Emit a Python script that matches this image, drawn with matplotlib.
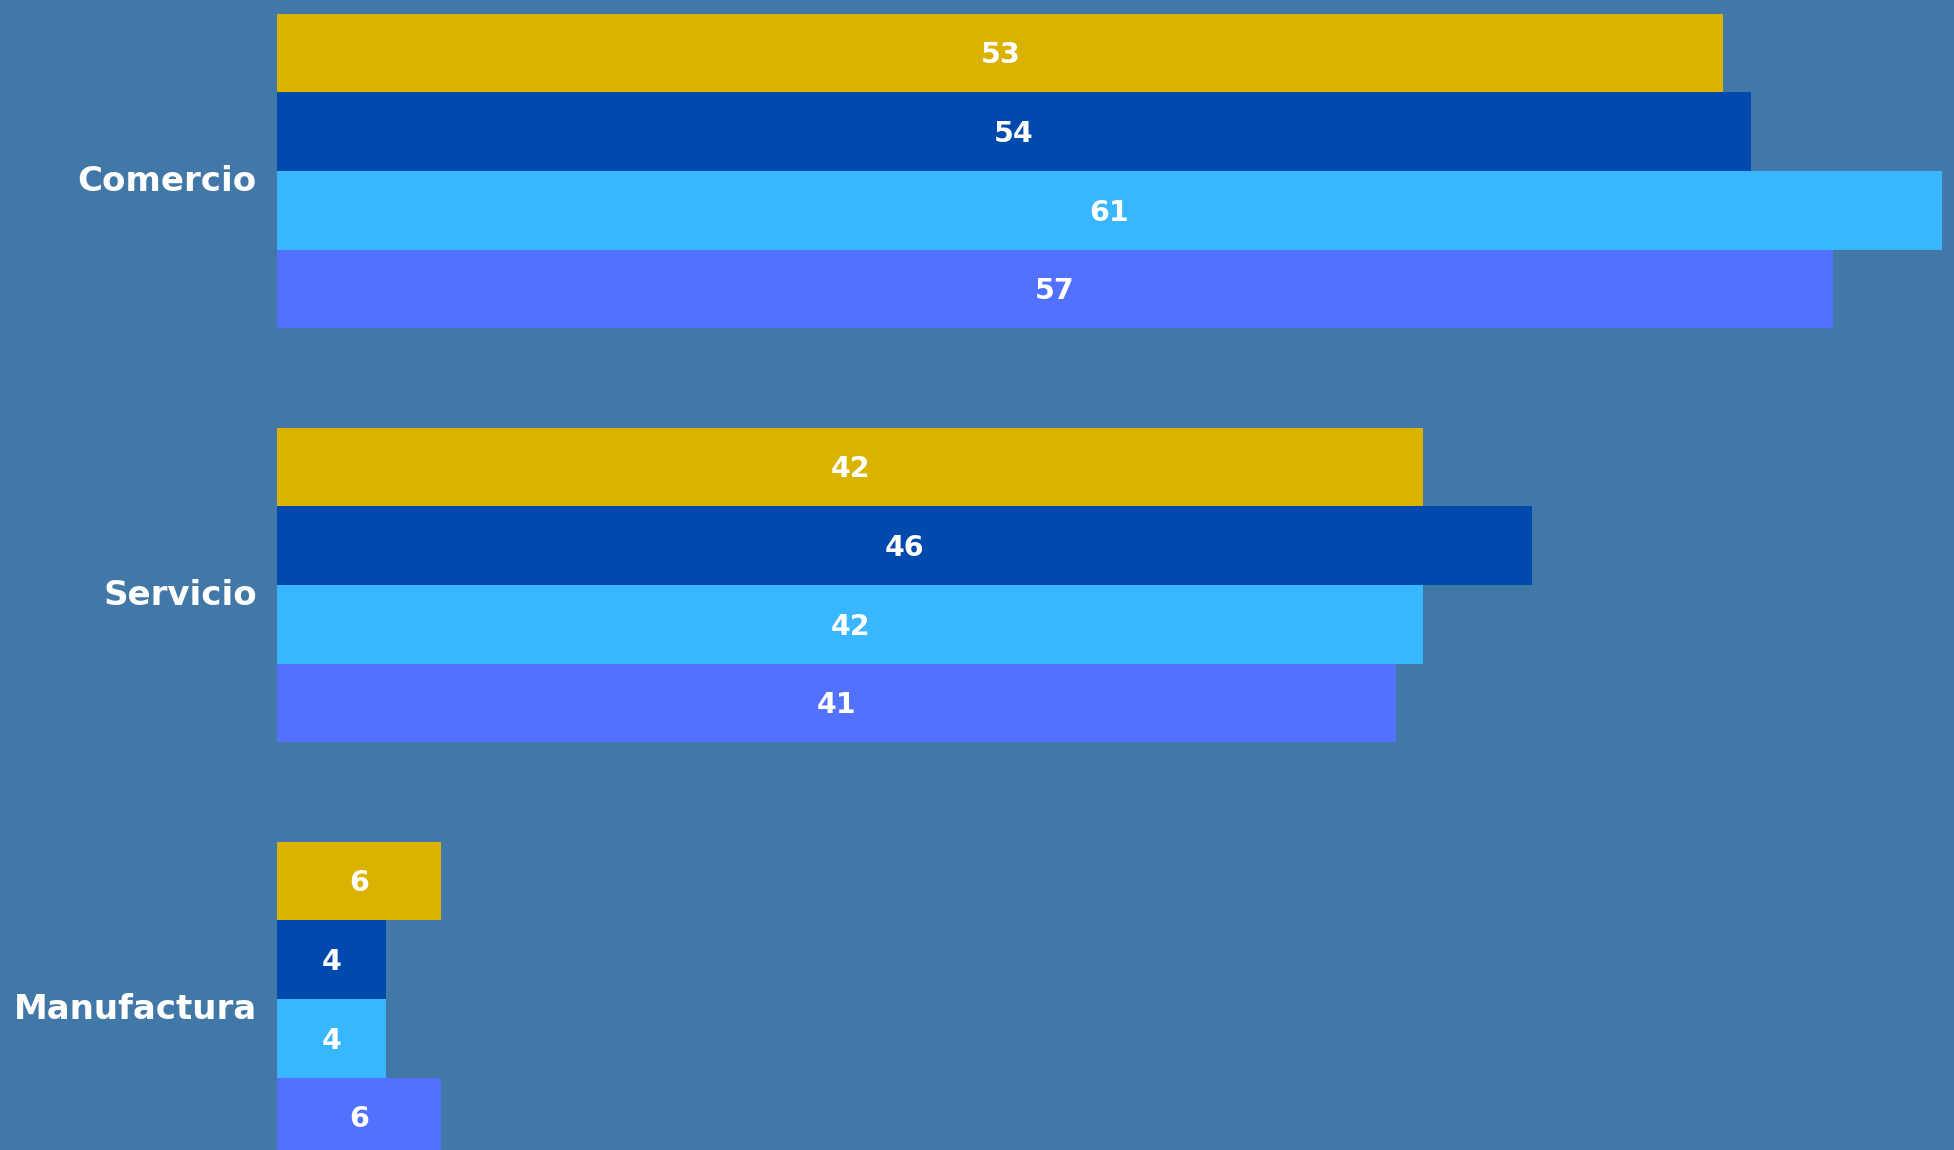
import matplotlib
matplotlib.use("Agg")
import matplotlib.pyplot as plt
from matplotlib.transforms import offset_copy
import numpy as np

categories = ["Comercio", "Servicio", "Manufactura"]
series_a = [53, 42, 6]   # gold
series_b = [54, 46, 4]   # dark blue
series_c = [61, 42, 4]   # light blue
series_d = [57, 41, 6]   # periwinkle
series = [series_a, series_b, series_c, series_d]
colors = ["#D9B300", "#004AAD", "#38B6FF", "#5271FF"]
bg = "#4278A8"

plt.rcParams['font.family'] = ['DejaVu Sans']

fig = plt.figure(figsize=(19.54, 11.5), dpi=100, facecolor=bg)
ax = fig.add_axes([277 / 1954, 0, 1 - 277 / 1954, 1])
ax.set_facecolor(bg)

h = 0.19
y = np.arange(len(categories))
val_size = 20.5
val_trans = offset_copy(ax.transData, fig=fig, x=0, y=-val_size * 0.729 / 2, units="points")
for i, (vals, col) in enumerate(zip(series, colors)):
    ypos = y + (i - 1.5) * h
    bars = ax.barh(ypos, vals, height=h, color=col, linewidth=0)
    for b, v in zip(bars, vals):
        ax.text(v / 2, b.get_y() + b.get_height() / 2, str(v), ha="center", va="baseline",
                color="white", fontsize=val_size, fontweight="bold", transform=val_trans)

cat_size = 24.5
cat_trans = offset_copy(ax.transData, fig=fig, x=-14.5, y=-14.4, units="points")
for yi, cat in zip(y, categories):
    ax.text(0, yi, cat, ha="right", va="baseline", color="white", fontsize=cat_size,
            fontweight="bold", transform=cat_trans, clip_on=False)

ax.set_xlim(0, 61.45)
ax.set_ylim(2.365, -0.413)
ax.set_yticks([])
ax.set_xticks([])
for s in ax.spines.values():
    s.set_visible(False)

fig.savefig("out.png", dpi=100, facecolor=bg)
